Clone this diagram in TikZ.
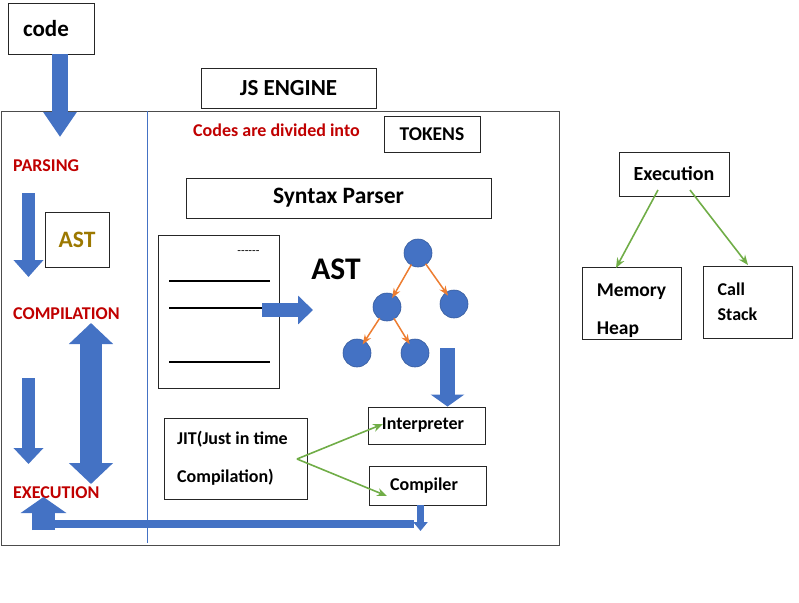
\documentclass[tikz,border=0pt]{standalone}
\usepackage{fontspec}
\setmainfont{Carlito}
\usetikzlibrary{arrows.meta,calc}
\definecolor{BlockBlue}{HTML}{4472C4}
\definecolor{StepRed}{HTML}{C00000}
\definecolor{TreeOrange}{HTML}{ED7D31}
\definecolor{FlowGreen}{HTML}{70AD47}
\definecolor{AstGold}{HTML}{9C7800}

\begin{document}
\begin{tikzpicture}[x=1pt,y=-1pt,>=Stealth,
  box/.style={draw=black!85,line width=0.9pt,fill=white,inner sep=0pt,font=\bfseries\fontsize{18}{22}\selectfont},
  steplabel/.style={anchor=west,inner sep=0pt,text=StepRed,font=\bfseries\fontsize{18}{22}\selectfont},
  blockarrow/.style n args={3}{draw=BlockBlue,line width=#1,-{Triangle[width=#2,length=#3]}},
  treenode/.style={circle,minimum size=28pt,inner sep=0pt,fill=BlockBlue,draw=BlockBlue!80!black,line width=0.6pt},
  treeedge/.style={TreeOrange,line width=1.5pt,->,shorten >=-4pt,shorten <=-1pt},
  flowedge/.style={FlowGreen,line width=1.6pt,-{Stealth[length=10pt,width=8pt]}}]
\useasboundingbox (0,0) rectangle (799,602);

% outer engine frame and divider
\draw[black!70,line width=0.9pt] (1,111) rectangle (559,545);
\draw[BlockBlue,line width=0.6pt] (147,111) -- (147,543);

% boxes
\node[box,minimum width=86pt,minimum height=51pt,font=\bfseries\fontsize{23}{27}\selectfont] (code) at (51,28.5) {code\hspace*{10pt}};
\node[box,minimum width=175pt,minimum height=40pt,font=\bfseries\fontsize{23}{27}\selectfont] (engine) at (288.5,88) {JS ENGINE};
\node[box,minimum width=96pt,minimum height=36pt,font=\bfseries\fontsize{19.5}{23}\selectfont] (tokens) at (432,134) {TOKENS};
\node[box,minimum width=305pt,minimum height=40pt,font=\bfseries\fontsize{23.5}{28}\selectfont] (parser) at (338.5,198) {Syntax Parser};
\node[box,minimum width=121pt,minimum height=153pt] (doc) at (218.5,311.5) {};
\node[box,minimum width=64pt,minimum height=55pt,text=AstGold,font=\bfseries\fontsize{23.5}{28}\selectfont] (astsmall) at (77,239.5) {AST};
\node[box,minimum width=117pt,minimum height=37pt] (interp) at (426.5,425.5) {Interpreter\hspace*{7pt}};
\node[box,minimum width=117pt,minimum height=39pt] (compiler) at (427.5,485.5) {Compiler\hspace*{7pt}};
\node[box,minimum width=143pt,minimum height=81pt,align=left] (jit) at (235.5,458.5) {JIT(Just in time\hspace*{6pt}\\[16pt]Compilation)};
\node[box,minimum width=110pt,minimum height=44pt,font=\bfseries\fontsize{20}{24}\selectfont] (exec) at (674,174) {Execution};
\node[box,minimum width=99pt,minimum height=72pt,align=left,font=\bfseries\fontsize{19.5}{23}\selectfont] (heap) at (631.5,303) {\rule{0pt}{28pt}Memory\\[15pt]Heap};
\node[box,minimum width=89pt,minimum height=72pt,align=left] (stack) at (747.5,302) {Call\\[3pt]Stack\hspace*{20pt}};

% labels
\node[steplabel] (parsing) at (13,166) {PARSING};
\node[steplabel] (compilation) at (13,314) {COMPILATION};
\node[steplabel] (execution) at (13,493) {EXECUTION};
\node[steplabel] (divided) at (193,130) {Codes are divided into};
\node[inner sep=0pt,font=\bfseries\fontsize{31.5}{36}\selectfont] (astbig) at (336,269) {AST};

% document sketch
\node[inner sep=0pt,font=\fontsize{12}{14}\selectfont] (dashes) at (248.5,253) {-\kern0pt-\kern0pt-\kern0pt-\kern0pt-\kern0pt-};
\draw[line width=1.2pt] (169,281) -- (270,281);
\draw[line width=1.2pt] (169,308) -- (270,308);
\draw[line width=1.2pt] (169,362) -- (270,362);

% AST tree
\node[treenode] (root) at (418,253) {};
\node[treenode] (lc) at (387,307) {};
\node[treenode] (rc) at (454,304) {};
\node[treenode] (llc) at (357,353) {};
\node[treenode] (lrc) at (415,353) {};
\draw[treeedge] (root) -- (lc);
\draw[treeedge] (root) -- (rc);
\draw[treeedge] (lc) -- (llc);
\draw[treeedge] (lc) -- (lrc);

% block arrows
\coordinate (codetip) at (60,137);
\coordinate (parsetop) at (28.5,193);
\coordinate (parsetip) at (28.5,277);
\coordinate (comptop) at (28.5,378);
\coordinate (comptip) at (28.5,464);
\coordinate (cycletop) at (91,323);
\coordinate (cyclebot) at (91,484);
\coordinate (doctip) at (313,310);
\coordinate (treeout) at (447.5,348);
\coordinate (compout) at (420.5,531);
\coordinate (backright) at (414,523.5);
\coordinate (backleft) at (38,523.5);
\coordinate (backbot) at (43.5,530);
\coordinate (backtip) at (43.5,497);
\draw[blockarrow={16pt}{32pt}{25pt}] ([xshift=9pt]code.south) -- (codetip);
\draw[blockarrow={13pt}{29pt}{17pt}] (parsetop) -- (parsetip);
\draw[blockarrow={13pt}{29pt}{16pt}] (comptop) -- (comptip);
\draw[draw=BlockBlue,line width=22pt,{Triangle[width=43pt,length=21pt]}-{Triangle[width=43pt,length=21pt]}] (cycletop) -- (cyclebot);
\draw[blockarrow={14pt}{28pt}{15pt}] (262,310) -- (doctip);
\draw[blockarrow={15pt}{33pt}{12pt}] (treeout) -- (interp.north -| treeout);
\draw[blockarrow={7pt}{14pt}{9pt}] (compiler.south -| compout) -- (compout);
\draw[BlockBlue,line width=8pt] (backright) -- (backleft);
\draw[blockarrow={23pt}{45pt}{16pt}] (backbot) -- (backtip);

% green flow arrows
\coordinate (jitout) at (297,459);
\draw[flowedge] (jitout) -- (383,424);
\draw[flowedge] (jitout) -- (387,496);
\draw[flowedge] (658,190) -- (616,268);
\draw[flowedge] (690,190) -- (748,265);
\end{tikzpicture}
\end{document}
